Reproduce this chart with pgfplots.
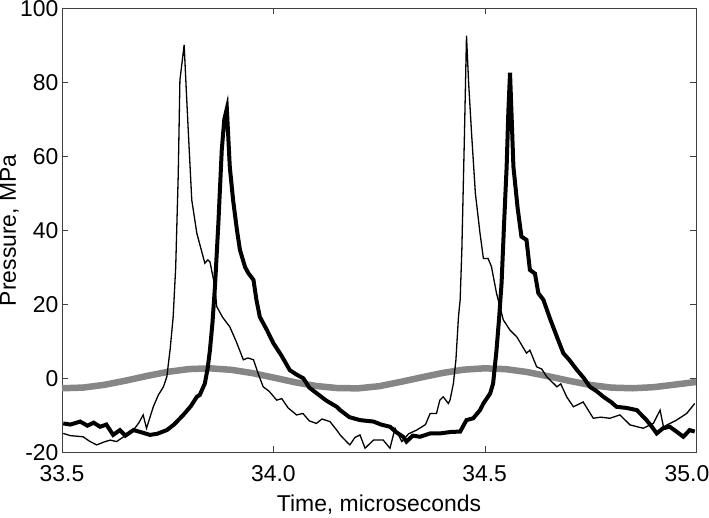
\documentclass[border=0pt]{standalone}
\usepackage{pgfplots}
\pgfplotsset{compat=1.18}
\usepackage{fontspec}
\setmainfont{Liberation Sans}

% gray background oscillation
\pgfplotstableread{
x y
33.50 -2.69
33.55 -2.51
33.60 -1.77
33.65 -0.65
33.70 0.61
33.75 1.74
33.80 2.49
33.85 2.69
33.90 2.30
33.95 1.41
34.00 0.21
34.05 -1.04
34.10 -2.06
34.15 -2.63
34.20 -2.72
34.25 -2.14
34.30 -1.00
34.35 0.24
34.40 1.43
34.45 2.33
34.50 2.70
34.55 2.47
34.60 1.70
34.65 0.56
34.70 -0.68
34.75 -1.80
34.80 -2.52
34.85 -2.69
34.90 -2.40
34.95 -1.70
35.00 -1.00
}\graydata

\begin{document}
\begin{tikzpicture}
\begin{axis}[
  scale only axis, width=634bp, height=444bp,
  xmin=33.5, xmax=35, ymin=-20, ymax=100,
  xtick={33.5,34,34.5,35},
  xticklabels={33.5,34.0,34.5,{35.0\hspace*{18bp}}},
  ytick={-20,0,20,40,60,80,100},
  xticklabel shift=9.5bp,
  /pgf/number format/assume math mode=true,
  tick align=inside, major tick length=6bp,
  axis line style={black!75}, tick style={black!75},
  font=\fontsize{23}{27}\selectfont,
  xlabel={Time, microseconds}, ylabel={Pressure, MPa},
  xlabel style={at={(axis description cs:0.5,-0.1336)}, anchor=base},
  ylabel style={at={(axis description cs:-0.0726,0.5)}, anchor=base},
]
\addplot[gray!95, line width=6.5bp] table {\graydata};
\addplot[black, line width=1.3bp] coordinates {
(33.503,-14.9) (33.52,-15.5) (33.55,-15.8) (33.565,-17.0) (33.582,-18.0) (33.60,-17.2)
(33.614,-16.7) (33.629,-17.1) (33.65,-15.5) (33.669,-14.0) (33.682,-12.0) (33.692,-9.9)
(33.70,-13.5) (33.716,-7.7) (33.728,-4.5) (33.74,-2.3) (33.748,0.4) (33.756,8)
(33.763,16.6) (33.769,30) (33.775,55) (33.779,80.6) (33.789,90.1) (33.794,78)
(33.799,66.3) (33.807,48.2) (33.819,39.2) (33.83,34.5) (33.838,31.1) (33.845,32.0)
(33.85,31.5) (33.862,24.7) (33.866,19.4) (33.88,16.5) (33.897,13.9) (33.912,10)
(33.929,5) (33.94,5.5) (33.953,5) (33.965,1.0) (33.976,-2.3) (33.99,-3.5)
(34.008,-5.9) (34.02,-5.5) (34.035,-8.0) (34.055,-9.9) (34.07,-9.5) (34.085,-11.5)
(34.102,-12.2) (34.115,-11.0) (34.134,-11.7) (34.15,-14.0) (34.158,-15.3) (34.173,-17.1)
(34.181,-18.0) (34.193,-16.0) (34.205,-15.3) (34.217,-18.9) (34.237,-16.7) (34.26,-16.7)
(34.276,-18.9) (34.288,-13.5) (34.304,-17.1) (34.32,-15.0) (34.339,-14.0) (34.36,-12.5)
(34.371,-9.5) (34.386,-9.5) (34.394,-5.9) (34.402,-5.0) (34.414,-6.8) (34.418,-5.9)
(34.426,-1.4) (34.432,5) (34.438,16.6) (34.442,21.2) (34.446,34.7) (34.452,65)
(34.457,92.6) (34.462,80) (34.469,66.2) (34.478,50) (34.489,39.2) (34.497,32.4)
(34.508,32.4) (34.516,30.2) (34.528,23) (34.544,15.8) (34.56,13) (34.576,11.2)
(34.599,6.8) (34.607,7.6) (34.623,3.1) (34.635,2.5) (34.647,0.4) (34.671,-2.3)
(34.68,-1.5) (34.694,-5) (34.71,-7.7) (34.733,-6.4) (34.757,-10.8) (34.775,-10.5)
(34.796,-10.8) (34.82,-9.9) (34.844,-12.6) (34.875,-13.5) (34.899,-12.2) (34.915,-8.6)
(34.923,-13.1) (34.954,-11.3) (34.978,-9.5) (34.997,-6.8)
};
\addplot[black, line width=4bp] coordinates {
(33.503,-12.2) (33.52,-12.5) (33.543,-11.7) (33.56,-12.8) (33.575,-12.0) (33.59,-13.1)
(33.605,-12.5) (33.621,-15.3) (33.637,-14.0) (33.65,-15.5) (33.669,-14.0) (33.685,-14.5)
(33.708,-15.3) (33.725,-15.0) (33.748,-14.0) (33.765,-12.5) (33.787,-9.9) (33.805,-7.5)
(33.819,-5.0) (33.826,-4.5) (33.838,-1.4) (33.845,3) (33.85,7.6) (33.856,15)
(33.862,25) (33.87,42) (33.878,61.7) (33.884,70) (33.89,72.9) (33.897,57.1)
(33.905,48) (33.914,40) (33.921,34.7) (33.933,30.1) (33.941,28.4) (33.953,26.6)
(33.96,21.2) (33.968,16.6) (33.985,13) (34.0,9.5) (34.02,6) (34.039,2.2)
(34.055,1.0) (34.071,0) (34.085,-2.5) (34.102,-4.0) (34.125,-6.0) (34.15,-7.7)
(34.158,-8.6) (34.18,-10.5) (34.205,-11.3) (34.237,-11.7) (34.255,-12.5) (34.276,-13.1)
(34.29,-14.5) (34.307,-15.8) (34.315,-17.1) (34.33,-15.5) (34.347,-15.8) (34.371,-14.9)
(34.394,-14.9) (34.42,-14.5) (34.442,-14.4) (34.457,-11.3) (34.473,-10.8) (34.489,-8.6)
(34.497,-6.8) (34.513,-4.1) (34.52,-1.4) (34.528,7.6) (34.534,16) (34.54,25.7)
(34.546,42) (34.552,57.2) (34.556,72) (34.56,82.6) (34.564,70) (34.568,57.2)
(34.578,46) (34.587,38.3) (34.599,37.4) (34.607,29.3) (34.619,28.3) (34.627,23)
(34.639,21.2) (34.655,16) (34.671,11.2) (34.686,6.8) (34.70,5) (34.718,2.3)
(34.735,0) (34.749,-2.3) (34.765,-3.5) (34.781,-5) (34.80,-6.5) (34.812,-7.7)
(34.835,-8) (34.86,-8.6) (34.883,-11.3) (34.895,-13) (34.907,-14.9) (34.922,-13.5)
(34.938,-13.1) (34.955,-14.5) (34.97,-15.8) (34.985,-14) (34.997,-14.4)
};
\end{axis}
\pgfresetboundingbox
\path ([shift={(-62bp,-65.3bp)}]current axis.south west) rectangle ([shift={(13bp,8.3bp)}]current axis.north east);
\end{tikzpicture}
\end{document}
